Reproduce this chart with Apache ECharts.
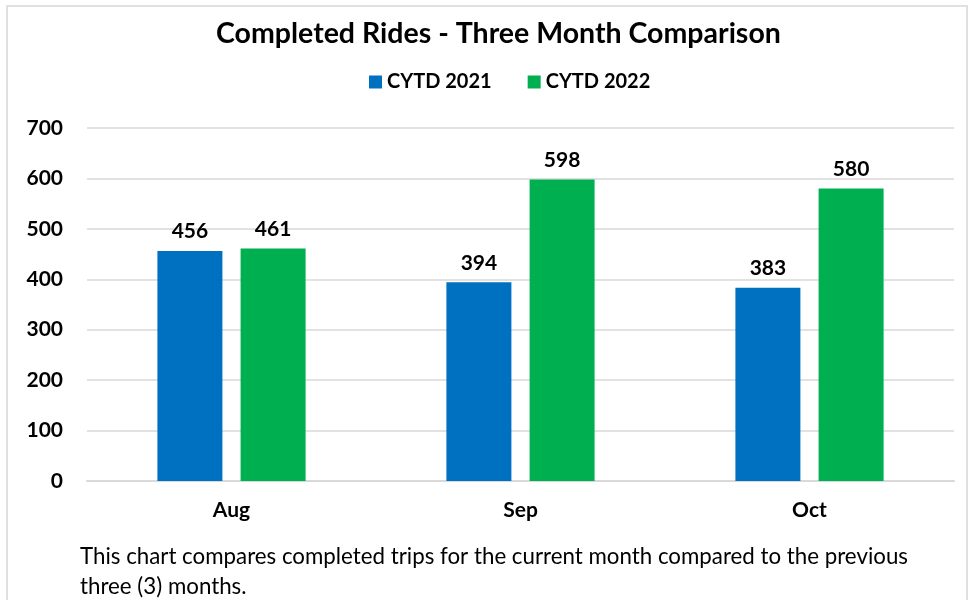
<!DOCTYPE html>
<html lang="en">
<head>
    <meta charset="UTF-8">
    <title>Completed Rides</title>
    <script type="text/javascript" src="https://cdn.jsdelivr.net/npm/echarts@6/dist/echarts.min.js"></script>
    <style>
        body { margin: 0; background: #fff; }
    </style>
</head>
<body>
<div id="main" style="width: 970px; height: 600px;"></div>
<script type="text/javascript">
    var months = ['Aug', 'Sep', 'Oct'];
    var rides2021 = [456, 394, 383];
    var rides2022 = [461, 598, 580];
    var yTicks = [0, 100, 200, 300, 400, 500, 600, 700];

    var font = 'Lato, Calibri, sans-serif';
    var myChart = echarts.init(document.getElementById('main'));
    var option = {
        animation: false,
        textStyle: { fontFamily: font },
        title: {
            text: 'Completed Rides - Three Month Comparison',
            left: 211,
            top: 14,
            textStyle: { fontSize: 28.5, fontWeight: 'bold', color: '#000', fontFamily: font }
        },
        legend: {
            data: ['CYTD 2021', 'CYTD 2022'],
            top: 67,
            left: 364,
            icon: 'rect',
            itemWidth: 13,
            itemHeight: 13,
            itemGap: 36,
            textStyle: { fontSize: 20, fontWeight: 'bold', color: '#000', fontFamily: font }
        },
        grid: { left: 87, right: 16, top: 128, bottom: 119, containLabel: false },
        xAxis: {
            type: 'category',
            data: months,
            axisLine: { lineStyle: { color: '#d9d9d9', width: 2 } },
            axisTick: { show: false },
            axisLabel: { fontSize: 21, fontWeight: 'bold', color: '#000', margin: 19, fontFamily: font }
        },
        yAxis: {
            type: 'value',
            min: yTicks[0],
            max: yTicks[yTicks.length - 1],
            interval: 100,
            axisLine: { show: false },
            axisTick: { show: false },
            splitLine: { lineStyle: { color: '#d9d9d9', width: 1.5 } },
            axisLabel: { fontSize: 21, fontWeight: 'bold', color: '#000', margin: 24, fontFamily: font }
        },
        series: [
            {
                name: 'CYTD 2021',
                type: 'bar',
                data: rides2021,
                barWidth: 65,
                barGap: '28%',
                itemStyle: { color: '#0070C0' },
                label: { show: true, position: 'top', distance: 9, fontSize: 21, fontWeight: 'bold', color: '#000', fontFamily: font }
            },
            {
                name: 'CYTD 2022',
                type: 'bar',
                data: rides2022,
                barWidth: 65,
                itemStyle: { color: '#00B050' },
                label: { show: true, position: 'top', distance: 9, fontSize: 21, fontWeight: 'bold', color: '#000', fontFamily: font }
            }
        ],
        graphic: [
            {
                type: 'rect',
                shape: { x: 7, y: 6, width: 960, height: 600 },
                style: { fill: 'none', stroke: '#e0e0e0', lineWidth: 2 },
                silent: true
            },
            {
                type: 'text',
                left: 80,
                top: 542,
                style: {
                    text: 'This chart compares completed trips for the current month compared to the previous\nthree (3) months.',
                    fontSize: 22.3,
                    lineHeight: 30,
                    fill: '#000',
                    fontFamily: font
                }
            }
        ]
    };
    myChart.setOption(option);
</script>
</body>
</html>
